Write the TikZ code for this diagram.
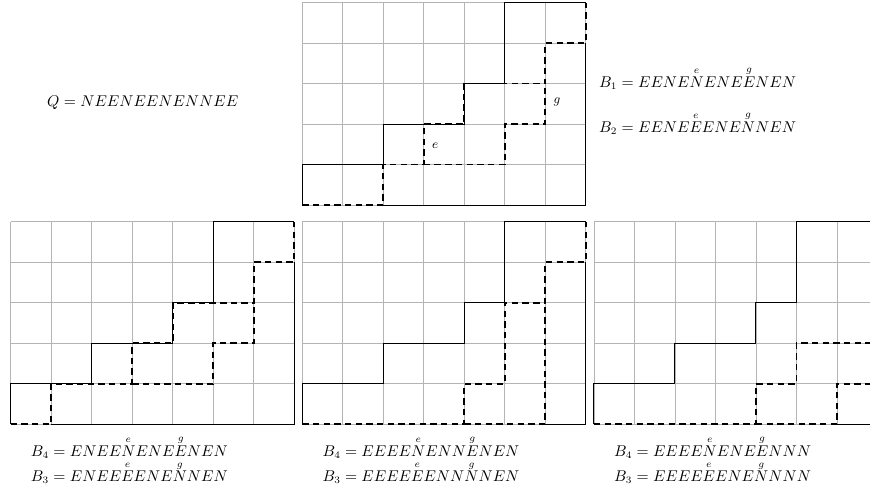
\documentclass[tikz,border=0pt]{standalone}
\usepackage{amsmath}
\definecolor{gridgray}{HTML}{B4B4B4}
\newcommand{\stepmark}[2]{\overset{#1}{#2}}

\begin{document}
\begin{tikzpicture}[
  x=1cm,
  y=1cm,
  gridline/.style={gridgray,line width=0.5pt},
  solidpath/.style={black,line width=0.75pt},
  dashpath/.style={black,line width=1.25pt,dash pattern=on 4.5pt off 3pt},
  wordlabel/.style={font=\fontsize{10.5}{12}\selectfont,anchor=base,inner sep=0pt},
  cornerlabel/.style={font=\fontsize{8.6}{10}\selectfont,inner sep=0pt}
]
\useasboundingbox (-0.264,-1.921) rectangle (21.217,10.474);
\clip (-0.264,-1.921) rectangle (21.217,10.474);

% Grids and the path Q
\foreach \gx/\gy in {7.2/5.41,0/0,7.2/0,14.4/0}{
  \draw[gridline,shift={(\gx,\gy)}] (0,0) grid (7,5);
  \draw[solidpath,shift={(\gx,\gy)}]
    (0,0) |- (2,1) |- (4,2) |- (5,3) |- (7,5);
}

% Top grid: B1 and B2
\begin{scope}[shift={(7.2,5.41)}]
  \draw[solidpath] (2,0) -- (7,0) -- (7,4);
  \draw[dashpath] (0,0) -| (2,1) -| (3,2) -| (4,3) -| (6,4) -| (7,5);
  \draw[dashpath] (3,1) -| (5,2) -| (6,3);
  \node[cornerlabel] (e) at (3.28,1.47) {$e$};
  \node[cornerlabel] (g) at (6.29,2.55) {$g$};
\end{scope}

% Bottom left grid
\begin{scope}[shift={(0,0)}]
  \draw[solidpath] (1,0) -- (7,0) -- (7,4);
  \draw[dashpath] (0,0) -| (1,1) -| (3,2) -| (4,3) -| (6,4) -| (7,5);
  \draw[dashpath] (3,1) -| (5,2) -| (6,3);
\end{scope}

% Bottom middle grid
\begin{scope}[shift={(7.2,0)}]
  \draw[solidpath] (6,0) -- (7,0) -- (7,4);
  \draw[dashpath] (0,0) -| (4,1) -| (5,3) -| (6,4) -| (7,5);
  \draw[dashpath] (4,0) -| (6,3);
\end{scope}

% Bottom right grid
\begin{scope}[shift={(14.4,0)}]
  \draw[solidpath] (6,0) -- (7,0) -- (7,1);
  \draw[dashpath] (0,0) -| (4,1) -| (5,2) -| (7,5);
  \draw[dashpath] (4,0) -| (6,1) -| (7,2);
\end{scope}

% Words
\node[wordlabel] (q) at (3.26,7.837) {$Q = NEENEENENNEE$};
\node[wordlabel] (b1) at (16.96,8.323)
  {$B_1 = EENE\stepmark{e}{N}ENE\stepmark{g}{E}NEN$};
\node[wordlabel] (b2) at (16.96,7.212)
  {$B_2 = EENE\stepmark{e}{E}ENE\stepmark{g}{N}NEN$};

\node[wordlabel] (lb4) at (2.93,-0.788)
  {$B_4 = ENEE\stepmark{e}{N}ENE\stepmark{g}{E}NEN$};
\node[wordlabel] (lb3) at (2.93,-1.417)
  {$B_3 = ENEE\stepmark{e}{E}ENE\stepmark{g}{N}NEN$};

\node[wordlabel] (mb4) at (10.13,-0.788)
  {$B_4 = EEEE\stepmark{e}{N}ENN\stepmark{g}{E}NEN$};
\node[wordlabel] (mb3) at (10.13,-1.417)
  {$B_3 = EEEE\stepmark{e}{E}ENN\stepmark{g}{N}NEN$};

\node[wordlabel] (rb4) at (17.33,-0.788)
  {$B_4 = EEEE\stepmark{e}{N}ENE\stepmark{g}{E}NNN$};
\node[wordlabel] (rb3) at (17.33,-1.417)
  {$B_3 = EEEE\stepmark{e}{E}ENE\stepmark{g}{N}NNN$};

\end{tikzpicture}
\end{document}
